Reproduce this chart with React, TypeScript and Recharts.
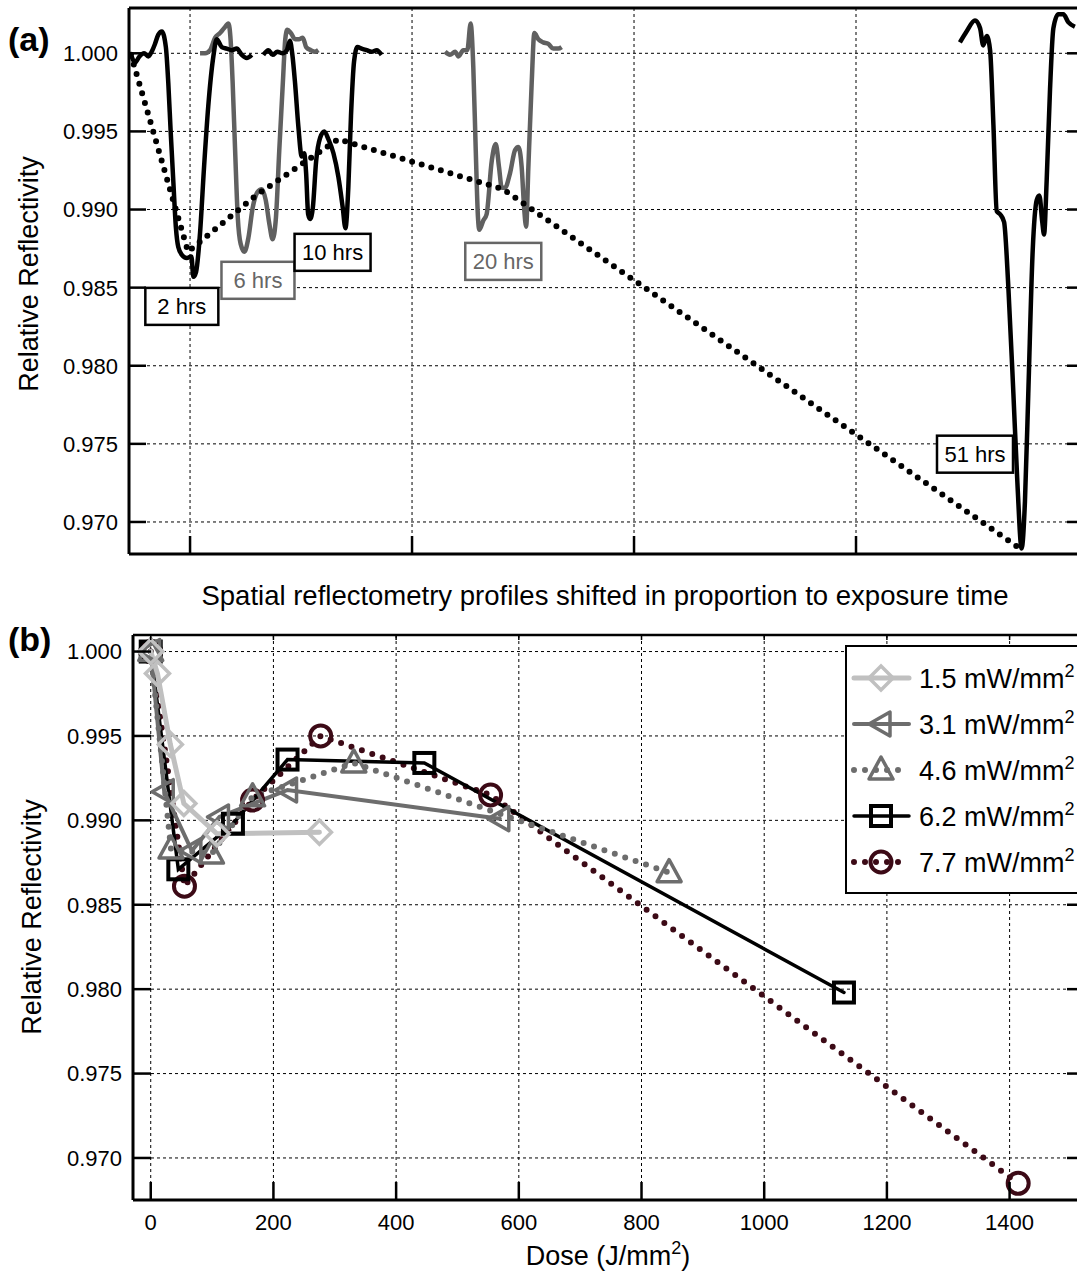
import React from 'react'
import { LineChart, Line, XAxis, YAxis, CartesianGrid, ReferenceLine, ReferenceDot } from 'recharts'

const FONT = 'Arial, "Liberation Sans", Helvetica, sans-serif'

// ---------- panel (a): reflectometry profiles, x in arbitrary position units ----------
const A_X_TICKS = [10, 20, 30, 40]
const A_Y_TICKS = [0.97, 0.975, 0.98, 0.985, 0.99, 0.995, 1.0]

const PROFILE_2H: [number, number][] = [
  [7.37, 0.9998], [7.52, 0.9994], [7.72, 0.9998], [7.93, 1.0], [8.12, 0.9998], [8.27, 1.0001],
  [8.42, 1.0006], [8.57, 1.0012], [8.73, 1.0014], [8.91, 1.0004], [9.02, 0.9981], [9.13, 0.9949],
  [9.25, 0.9917], [9.36, 0.9889], [9.47, 0.9876], [9.63, 0.9871], [9.85, 0.9869], [10.06, 0.987],
  [10.15, 0.9857], [10.27, 0.986], [10.45, 0.9885], [10.63, 0.9927], [10.82, 0.9966], [11.05, 0.9998],
  [11.2, 1.0009], [11.43, 1.0004], [11.65, 1.0003], [11.88, 1.0002], [12.1, 1.0003], [12.33, 0.9999],
  [12.55, 0.9997], [12.78, 0.9999],
]

const PROFILE_6H: [number, number][] = [
  [10.45, 1.0], [10.68, 1.0], [10.9, 1.0002], [11.13, 1.001], [11.35, 1.0013], [11.53, 1.0016],
  [11.73, 1.0019], [11.83, 1.0008], [11.92, 0.9981], [12.03, 0.9938], [12.15, 0.9895], [12.28, 0.9878],
  [12.45, 0.9873], [12.63, 0.9882], [12.82, 0.9901], [13.03, 0.9911], [13.23, 0.9913], [13.41, 0.9906],
  [13.57, 0.9891], [13.72, 0.9881], [13.87, 0.9895], [14.02, 0.9938], [14.18, 0.9981], [14.29, 1.0009],
  [14.38, 1.0015], [14.54, 1.0013], [14.73, 1.0009], [14.92, 1.0009], [15.08, 1.001], [15.23, 1.0004],
  [15.44, 1.0002], [15.63, 1.0001], [15.78, 1.0002],
]

const PROFILE_10H: [number, number][] = [
  [13.3, 0.9999], [13.53, 1.0002], [13.72, 0.9999], [13.93, 1.0001], [14.17, 1.0], [14.36, 1.0002],
  [14.5, 1.0008], [14.61, 0.9999], [14.73, 0.9981], [14.88, 0.9953], [15.03, 0.9934], [15.14, 0.9936],
  [15.23, 0.9923], [15.32, 0.9897], [15.41, 0.9894], [15.53, 0.9901], [15.68, 0.9931], [15.86, 0.9946],
  [16.05, 0.995], [16.23, 0.9945], [16.46, 0.9936], [16.68, 0.9921], [16.88, 0.9901], [17.0, 0.9888],
  [17.13, 0.9914], [17.25, 0.996], [17.39, 0.9995], [17.54, 1.0004], [17.73, 1.0003], [17.96, 1.0002],
  [18.18, 1.0001], [18.41, 1.0002], [18.63, 0.9999],
]

const PROFILE_20H: [number, number][] = [
  [21.49, 1.0001], [21.71, 0.9999], [21.94, 1.0001], [22.09, 0.9998], [22.31, 1.0002], [22.49, 1.0002],
  [22.64, 1.0019], [22.76, 0.9991], [22.87, 0.9938], [22.97, 0.9895], [23.03, 0.9887], [23.21, 0.9893],
  [23.36, 0.9897], [23.59, 0.9931], [23.77, 0.9942], [23.92, 0.9927], [24.04, 0.9914], [24.19, 0.9914],
  [24.41, 0.9923], [24.64, 0.9938], [24.79, 0.994], [24.94, 0.9927], [25.05, 0.9901], [25.14, 0.9889],
  [25.24, 0.9927], [25.39, 0.9981], [25.51, 1.0013], [25.69, 1.0009], [25.91, 1.0007], [26.14, 1.0006],
  [26.36, 1.0003], [26.59, 1.0003], [26.74, 1.0004],
]

const PROFILE_51H: [number, number][] = [
  [44.68, 1.0007], [44.98, 1.0014], [45.36, 1.0021], [45.59, 1.0016], [45.73, 1.0005], [45.89, 1.0011],
  [46.04, 1.0002], [46.19, 0.9954], [46.34, 0.9899], [46.49, 0.9897], [46.67, 0.9892], [46.86, 0.9851],
  [47.09, 0.9782], [47.27, 0.9725], [47.46, 0.9683], [47.61, 0.9713], [47.76, 0.9782], [47.96, 0.9874],
  [48.14, 0.9906], [48.26, 0.9909], [48.39, 0.9892], [48.47, 0.9884], [48.59, 0.9919], [48.74, 0.9977],
  [48.89, 1.0016], [49.11, 1.0025], [49.34, 1.0025], [49.56, 1.002], [49.86, 1.0017],
]

// dotted trend through the profiles (2, 6, 10, 20, 51 hrs)
const TREND_POS = [7.34, 9.91, 12.97, 16.67, 24.1, 47.39]
const TREND_VAL = [0.9999, 0.9873, 0.9909, 0.9945, 0.9913, 0.9683]

const A_LABEL_TEXT = ['2 hrs', '6 hrs', '10 hrs', '20 hrs', '51 hrs']
const A_LABEL_POS = [9.63, 13.06, 16.42, 24.11, 45.36]
const A_LABEL_VAL = [0.9838, 0.98547, 0.98726, 0.98668, 0.97434]
const A_LABEL_GRAY = [false, true, false, true, false]

// ---------- panel (b): reflectivity vs dose ----------
const DOSE_TICKS = [0, 200, 400, 600, 800, 1000, 1200, 1400]
const B_Y_TICKS = [0.97, 0.975, 0.98, 0.985, 0.99, 0.995, 1.0]

const DOSE_15 = [0, 11, 32, 54, 108, 275]
const REFL_15 = [1.0, 0.9987, 0.9945, 0.991, 0.9892, 0.9893]
const DOSE_31 = [0, 22, 67, 112, 223, 569]
const REFL_31 = [1.0, 0.9917, 0.9882, 0.9902, 0.9918, 0.9901]
const DOSE_46 = [0, 33, 99, 166, 331, 845]
const REFL_46 = [1.0, 0.9883, 0.988, 0.9914, 0.9934, 0.9869]
const DOSE_62 = [0, 45, 134, 223, 446, 1130]
const REFL_62 = [1.0, 0.9871, 0.9898, 0.9936, 0.9934, 0.9798]
const DOSE_77 = [0, 55, 166, 277, 554, 1414]
const REFL_77 = [1.0, 0.9861, 0.9912, 0.995, 0.9915, 0.9685]

type MarkerKind = 'diamond' | 'left' | 'up' | 'square' | 'circle'

const SERIES_B = [
  { label: '1.5', dose: DOSE_15, refl: REFL_15, color: '#c0c0c0', width: 5, dash: undefined, marker: 'diamond' as MarkerKind },
  { label: '3.1', dose: DOSE_31, refl: REFL_31, color: '#6d6d6d', width: 4, dash: undefined, marker: 'left' as MarkerKind },
  { label: '4.6', dose: DOSE_46, refl: REFL_46, color: '#6d6d6d', width: 6, dash: '0 11', marker: 'up' as MarkerKind },
  { label: '6.2', dose: DOSE_62, refl: REFL_62, color: '#000000', width: 3.5, dash: undefined, marker: 'square' as MarkerKind },
  { label: '7.7', dose: DOSE_77, refl: REFL_77, color: '#3c0a16', width: 6, dash: '0 11', marker: 'circle' as MarkerKind },
]

// plot geometry (chart-local pixels)
const A_LEFT = 129
const A_RIGHT = 1078
const A_BOTTOM = 554
const A_DOMAIN_X: [number, number] = [7.25, 50]
const A_DOMAIN_Y: [number, number] = [0.96795, 1.0029]

const B_OFFSET = 600
const B_LEFT = 133
const B_RIGHT = 1078
const B_TOP = 35
const B_BOTTOM = 600
const B_DOMAIN_X: [number, number] = [-28.9, 1511.5]
const B_DOMAIN_Y: [number, number] = [0.96751, 1.00098]

const toPts = (arr: [number, number][]) => arr.map(([u, v]) => ({ u, v }))

function Marker({ kind, cx, cy, color }: { kind: MarkerKind; cx: number; cy: number; color: string }) {
  const common = { fill: 'none', stroke: color, strokeWidth: 3.5 }
  if (kind === 'diamond')
    return <path d={`M${cx} ${cy - 12}L${cx + 12} ${cy}L${cx} ${cy + 12}L${cx - 12} ${cy}Z`} {...common} />
  if (kind === 'left')
    return <path d={`M${cx - 12} ${cy}L${cx + 9} ${cy - 12}L${cx + 9} ${cy + 12}Z`} {...common} strokeLinejoin="round" />
  if (kind === 'up')
    return <path d={`M${cx} ${cy - 13}L${cx + 12} ${cy + 9}L${cx - 12} ${cy + 9}Z`} {...common} strokeLinejoin="round" />
  if (kind === 'square')
    return <rect x={cx - 10} y={cy - 10} width={20} height={20} {...common} strokeWidth={4} />
  return <circle cx={cx} cy={cy} r={10.5} {...common} strokeWidth={4} />
}

function AYTick(props: any) {
  const { y, payload } = props
  return (
    <g>
      <line x1={A_LEFT} x2={A_LEFT + 17} y1={y} y2={y} stroke="#000" strokeWidth={2.5} />
      <line x1={A_RIGHT - 11} x2={A_RIGHT} y1={y} y2={y} stroke="#000" strokeWidth={2.5} />
      <text x={A_LEFT - 11} y={y} dy="0.36em" textAnchor="end" fontSize={22} fontFamily={FONT} fill="#000">
        {Number(payload.value).toFixed(3)}
      </text>
    </g>
  )
}

function AXTick(props: any) {
  const { x } = props
  return <line x1={x} x2={x} y1={A_BOTTOM} y2={A_BOTTOM - 18} stroke="#000" strokeWidth={2.5} />
}

function BYTick(props: any) {
  const { y, payload } = props
  return (
    <g>
      <line x1={B_LEFT} x2={B_LEFT + 18} y1={y} y2={y} stroke="#000" strokeWidth={2.5} />
      <line x1={B_RIGHT - 11} x2={B_RIGHT} y1={y} y2={y} stroke="#000" strokeWidth={2.5} />
      <text x={B_LEFT - 11} y={y} dy="0.36em" textAnchor="end" fontSize={22} fontFamily={FONT} fill="#000">
        {Number(payload.value).toFixed(3)}
      </text>
    </g>
  )
}

function BXTick(props: any) {
  const { x, payload } = props
  return (
    <g>
      <line x1={x} x2={x} y1={B_BOTTOM} y2={B_BOTTOM - 18} stroke="#000" strokeWidth={2.5} />
      <line x1={x} x2={x} y1={B_TOP} y2={B_TOP + 5} stroke="#000" strokeWidth={1.5} />
      <text x={x} y={B_BOTTOM + 30} textAnchor="middle" fontSize={22} fontFamily={FONT} fill="#000">
        {payload.value}
      </text>
    </g>
  )
}

function LabelBox({ cx, cy, text, gray }: { cx: number; cy: number; text: string; gray: boolean }) {
  const w = 58 + 3 * text.length
  const h = 37
  const c = gray ? '#666666' : '#000000'
  return (
    <g>
      <rect x={cx - w / 2} y={cy - h / 2} width={w} height={h} fill="#fff" stroke={c} strokeWidth={2.5} />
      <text x={cx} y={cy} dy="0.36em" textAnchor="middle" fontSize={22} fontFamily={FONT} fill={c}>
        {text}
      </text>
    </g>
  )
}

function PanelA() {
  const trend = TREND_POS.map((u, i) => ({ u, v: TREND_VAL[i] }))
  const grayProfiles = [PROFILE_6H, PROFILE_20H]
  const blackProfiles = [PROFILE_2H, PROFILE_10H, PROFILE_51H]
  return (
    <LineChart width={1090} height={600} margin={{ top: 8, right: 12, bottom: 0, left: 0 }}>
      <CartesianGrid stroke="#000" strokeDasharray="3 3" strokeWidth={1} />
      <XAxis
        type="number"
        dataKey="u"
        domain={A_DOMAIN_X}
        allowDataOverflow
        ticks={A_X_TICKS}
        interval={0}
        height={46}
        tickSize={0}
        tickLine={false}
        axisLine={{ stroke: '#000', strokeWidth: 3 }}
        tick={(p: any) => <AXTick {...p} />}
      />
      <YAxis
        type="number"
        dataKey="v"
        domain={A_DOMAIN_Y}
        allowDataOverflow
        ticks={A_Y_TICKS}
        interval={0}
        width={129}
        tickSize={0}
        tickLine={false}
        axisLine={{ stroke: '#000', strokeWidth: 3 }}
        tick={(p: any) => <AYTick {...p} />}
      />
      <ReferenceLine y={A_DOMAIN_Y[1]} stroke="#000" strokeWidth={3} ifOverflow="visible" />
      {grayProfiles.map((pr, i) => (
        <Line
          key={`g${i}`}
          data={toPts(pr)}
          dataKey="v"
          type="monotone"
          stroke="#606060"
          strokeWidth={4.5}
          dot={false}
          activeDot={false}
          isAnimationActive={false}
        />
      ))}
      {blackProfiles.map((pr, i) => (
        <Line
          key={`b${i}`}
          data={toPts(pr)}
          dataKey="v"
          type="monotone"
          stroke="#000"
          strokeWidth={4.5}
          dot={false}
          activeDot={false}
          isAnimationActive={false}
        />
      ))}
      <Line
        data={trend}
        dataKey="v"
        type="linear"
        stroke="#000"
        strokeWidth={6}
        strokeDasharray="0 10"
        strokeLinecap="round"
        dot={false}
        activeDot={false}
        isAnimationActive={false}
      />
      {A_LABEL_TEXT.map((t, i) => (
        <ReferenceDot
          key={t}
          x={A_LABEL_POS[i]}
          y={A_LABEL_VAL[i]}
          r={0}
          shape={(p: any) => <LabelBox cx={p.cx} cy={p.cy} text={t} gray={A_LABEL_GRAY[i]} />}
        />
      ))}
    </LineChart>
  )
}

function PanelB() {
  const drawOrder = [...SERIES_B].reverse()
  return (
    <LineChart width={1090} height={677} margin={{ top: B_TOP, right: 12, bottom: 0, left: 0 }}>
      <CartesianGrid stroke="#000" strokeDasharray="3 3" strokeWidth={1} />
      <XAxis
        type="number"
        dataKey="dose"
        domain={B_DOMAIN_X}
        allowDataOverflow
        ticks={DOSE_TICKS}
        interval={0}
        height={77}
        tickSize={0}
        tickLine={false}
        axisLine={{ stroke: '#000', strokeWidth: 3 }}
        tick={(p: any) => <BXTick {...p} />}
      />
      <YAxis
        type="number"
        dataKey="r"
        domain={B_DOMAIN_Y}
        allowDataOverflow
        ticks={B_Y_TICKS}
        interval={0}
        width={133}
        tickSize={0}
        tickLine={false}
        axisLine={{ stroke: '#000', strokeWidth: 3 }}
        tick={(p: any) => <BYTick {...p} />}
      />
      <ReferenceLine y={B_DOMAIN_Y[1]} stroke="#000" strokeWidth={2.5} ifOverflow="visible" />
      {drawOrder.map((s) => (
        <Line
          key={s.label}
          data={s.dose.map((d, i) => ({ dose: d, r: s.refl[i] }))}
          dataKey="r"
          type="linear"
          stroke={s.color}
          strokeWidth={s.width}
          strokeDasharray={s.dash}
          strokeLinecap="round"
          dot={(p: any) => <Marker key={p.index} kind={s.marker} cx={p.cx} cy={p.cy} color={s.color} />}
          activeDot={false}
          isAnimationActive={false}
        />
      ))}
    </LineChart>
  )
}

function Overlay() {
  const rowY = (i: number) => 678 + i * 46
  return (
    <svg width={1077} height={1277} style={{ position: 'absolute', left: 0, top: 0, pointerEvents: 'none' }}>
      <g fontFamily={FONT} fill="#000">
        <text x={8} y={51} fontSize={34} fontWeight="bold">(a)</text>
        <text x={8} y={651} fontSize={34} fontWeight="bold">(b)</text>
        <text transform="translate(38 274) rotate(-90)" textAnchor="middle" fontSize={27}>
          Relative Reflectivity
        </text>
        <text transform="translate(41 917) rotate(-90)" textAnchor="middle" fontSize={27}>
          Relative Reflectivity
        </text>
        <text x={605} y={605} textAnchor="middle" fontSize={27.5}>
          Spatial reflectometry profiles shifted in proportion to exposure time
        </text>
        <text x={608} y={1265} textAnchor="middle" fontSize={27}>
          Dose (J/mm<tspan dy={-11} fontSize={18}>2</tspan><tspan dy={11}>)</tspan>
        </text>
      </g>
      <rect x={846} y={646} width={240} height={247} fill="#fff" stroke="#000" strokeWidth={2} />
      {SERIES_B.map((s, i) => (
        <g key={s.label}>
          <line
            x1={854}
            x2={909}
            y1={rowY(i)}
            y2={rowY(i)}
            stroke={s.color}
            strokeWidth={s.width}
            strokeDasharray={s.dash}
            strokeLinecap="round"
          />
          <Marker kind={s.marker} cx={881} cy={rowY(i)} color={s.color} />
          <text x={919} y={rowY(i)} dy="0.36em" fontSize={27} fontFamily={FONT} fill="#000">
            {s.label} mW/mm<tspan dy={-11} fontSize={18}>2</tspan>
          </text>
        </g>
      ))}
    </svg>
  )
}

export default function App() {
  return (
    <div style={{ position: 'absolute', left: 0, top: 0, width: 1077, height: 1277, overflow: 'hidden', background: '#fff' }}>
      <div style={{ position: 'absolute', left: 0, top: 0 }}>
        <PanelA />
      </div>
      <div style={{ position: 'absolute', left: 0, top: B_OFFSET }}>
        <PanelB />
      </div>
      <Overlay />
    </div>
  )
}
